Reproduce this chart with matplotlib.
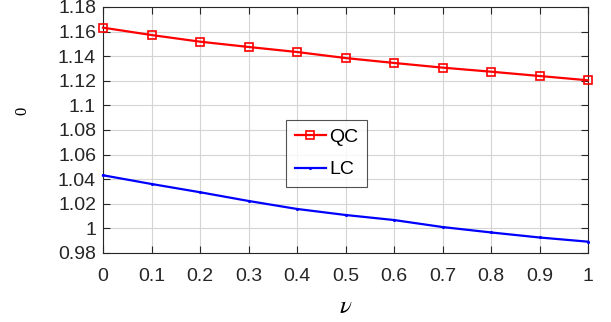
import numpy as np
import matplotlib
matplotlib.use("Agg")
import matplotlib.pyplot as plt

nu = [0.0, 0.1, 0.2, 0.3, 0.4, 0.5, 0.6, 0.7, 0.8, 0.9, 1.0]
qc = [1.1632, 1.1572, 1.1518, 1.1475, 1.1434, 1.1385, 1.1345, 1.1307, 1.1274, 1.1239, 1.1204]
lc = [1.0432, 1.0361, 1.0294, 1.0223, 1.0158, 1.0109, 1.0068, 1.0011, 0.9967, 0.9926, 0.9892]
yticks = [0.98, 1.0, 1.02, 1.04, 1.06, 1.08, 1.1, 1.12, 1.14, 1.16, 1.18]
ytick_labels = ["0.98", "1", "1.02", "1.04", "1.06", "1.08", "1.1", "1.12", "1.14", "1.16", "1.18"]
xticks = nu
xtick_labels = ["0", "0.1", "0.2", "0.3", "0.4", "0.5", "0.6", "0.7", "0.8", "0.9", "1"]

plt.rcParams["font.family"] = ["Liberation Sans", "DejaVu Sans"]
plt.rcParams["mathtext.fontset"] = "stix"

fig = plt.figure(figsize=(6.11, 3.22), dpi=100)
ax = fig.add_axes([0.1686, 0.2143, 0.7938, 0.7640])

ax.plot(nu, qc, color="red", linewidth=1.6, marker="s", markersize=6,
        markerfacecolor="none", markeredgewidth=1.2, label="QC", clip_on=False, zorder=3)
ax.plot(nu, lc, color="blue", linewidth=1.6, marker=".", markersize=2.5,
        label="LC", clip_on=False, zorder=3)

ax.set_xlim(0, 1)
ax.set_ylim(0.98, 1.18)
ax.set_xticks(xticks)
ax.set_xticklabels(xtick_labels)
ax.set_yticks(yticks)
ax.set_yticklabels(ytick_labels)
ax.tick_params(direction="in", top=True, right=True, labelsize=14,
               labelcolor="#262626", length=5, width=0.8, color="#262626")
ax.tick_params(axis="x", pad=11)
ax.tick_params(axis="y", pad=5)
ax.grid(True, color="#d4d4d4", linewidth=0.8)
ax.set_axisbelow(True)
for s in ax.spines.values():
    s.set_color("#262626")
    s.set_linewidth(0.8)

ax.set_xlabel(r"$\nu$", fontsize=18, va="center")
ax.xaxis.set_label_coords(0.5, -0.215)
ax.set_ylabel("0", fontsize=12, family="Liberation Serif", va="center")
ax.yaxis.set_label_coords(-0.167, 0.577)

leg = ax.legend(loc="upper left", bbox_to_anchor=(0.377, 0.541), fontsize=14,
                frameon=True, fancybox=False, edgecolor="#262626",
                handlelength=1.6, borderpad=0.45, labelspacing=0.75,
                handletextpad=0.2, borderaxespad=0)
leg.get_frame().set_linewidth(0.8)

fig.savefig("out.png", dpi=100)
